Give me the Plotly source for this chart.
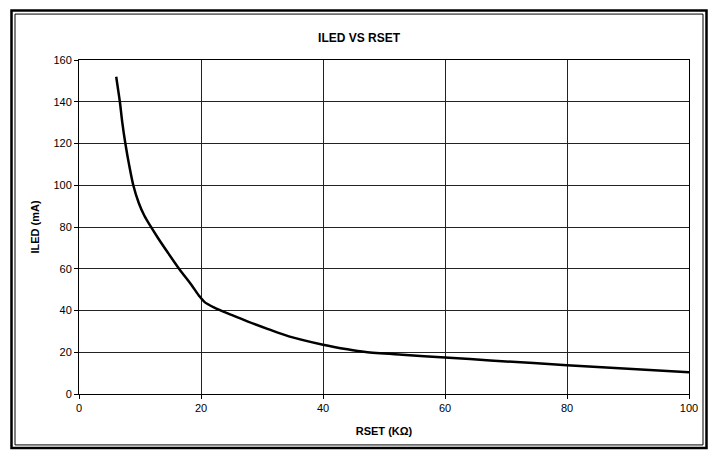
import plotly.graph_objects as go

# RSET (kOhm) vs ILED (mA)
rset = [6.1, 6.4, 6.7, 7.1, 7.6, 8.2, 8.9, 9.8, 10.7, 11.7, 13.0, 14.5, 16.4, 18.5, 19.7, 20.6,
        22.1, 25.0, 27.6, 31.0, 34.4, 40.0, 44.0, 47.0, 53.0, 60.0, 67.4, 80.0, 100.0]
iled = [152, 146, 140, 130, 120, 110, 100, 91.5, 85.5, 80.5, 74.5, 68, 60, 52, 47, 44,
        41.5, 37.9, 34.8, 31.1, 27.6, 23.6, 21.4, 20.1, 18.8, 17.5, 16.1, 13.8, 10.4]

x_ticks = [0, 20, 40, 60, 80, 100]
y_ticks = [0, 20, 40, 60, 80, 100, 120, 140, 160]

FONT = "Liberation Sans, Arial, sans-serif"

fig = go.Figure()
fig.add_trace(go.Scatter(x=rset, y=iled, mode="lines",
                         line=dict(color="black", width=2.5, shape="spline", smoothing=0.8),
                         showlegend=False, hoverinfo="skip"))

axis_common = dict(showline=True, linecolor="black", linewidth=1, mirror=True,
                   showgrid=True, gridcolor="#222", gridwidth=1,
                   ticks="outside", ticklen=4, tickcolor="black",
                   tickfont=dict(family=FONT, size=11, color="black"),
                   zeroline=False, fixedrange=True)

fig.update_xaxes(range=[0, 100], tickvals=x_ticks,
                 title=dict(text="<b>RSET (KΩ)</b>", font=dict(family=FONT, size=11, color="black"), standoff=14),
                 **axis_common)
fig.update_yaxes(range=[0, 160], tickvals=y_ticks,
                 title=dict(text="<b>ILED (mA)</b>", font=dict(family=FONT, size=11, color="black"), standoff=11),
                 **axis_common)

# double frame around the whole chart area (paper coords relative to plot area)
L, R, T, B = 79, 689, 60, 394.5
W, H = R - L, B - T
def px(x):
    return (x - L) / W
def py(y):
    return (B - y) / H

fig.add_shape(type="rect", xref="paper", yref="paper",
              x0=px(11.5), x1=px(706.5), y0=py(10.5), y1=py(448.5),
              line=dict(color="black", width=2.5), layer="above")
fig.add_shape(type="rect", xref="paper", yref="paper",
              x0=px(15), x1=px(703), y0=py(14), y1=py(445.5),
              line=dict(color="black", width=1), layer="above")

fig.update_layout(
    title=dict(text="<b>ILED VS RSET</b>", x=0.505, xanchor="center", y=1 - 38 / 453, yanchor="middle",
               font=dict(family=FONT, size=12, color="black")),
    width=711, height=453,
    margin=dict(l=L, r=711 - R, t=T, b=453 - B),
    paper_bgcolor="white", plot_bgcolor="white",
    font=dict(family=FONT, color="black"),
)

fig.write_html("out.html", config={"displayModeBar": False},
               post_script="document.body.style.margin='0';")
